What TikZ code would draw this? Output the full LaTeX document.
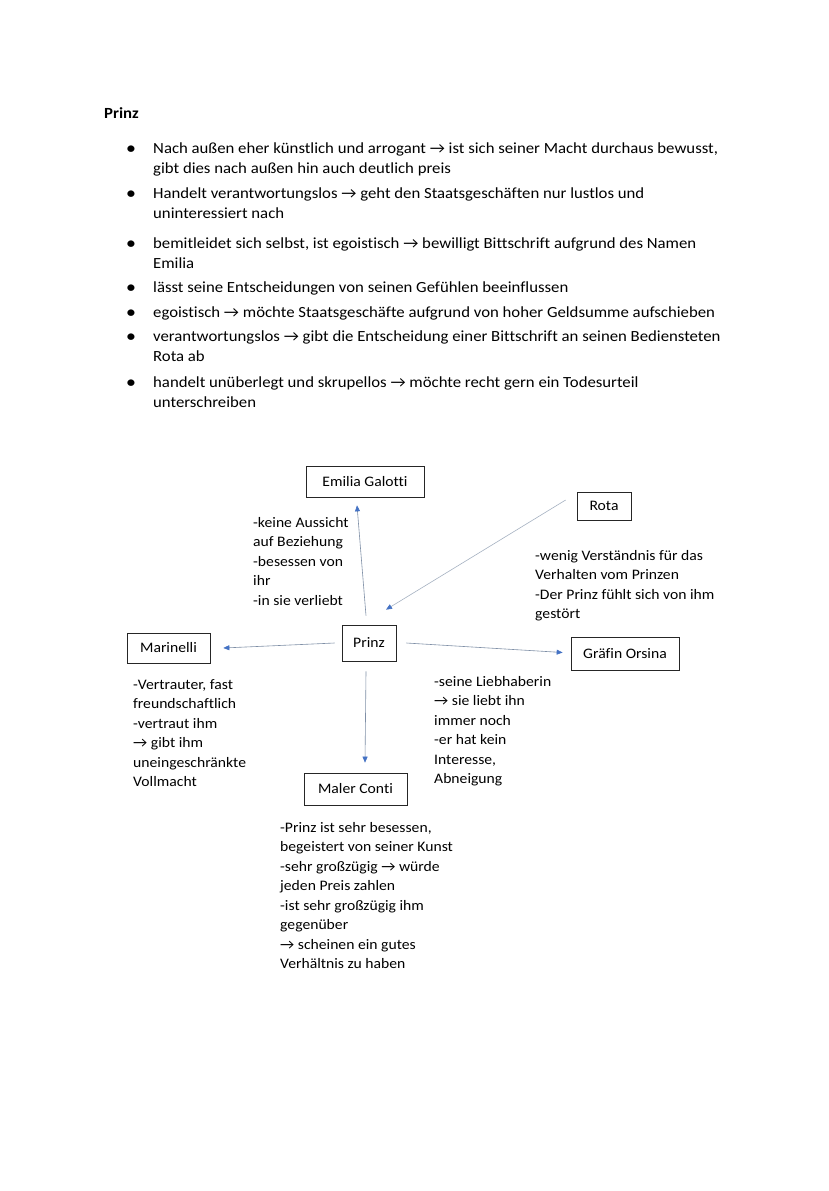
\documentclass[tikz,border=0pt]{standalone}
\usepackage{fontspec}
\setmainfont{Carlito}[FakeStretch=1.08,Ligatures={NoCommon}]
\usetikzlibrary{arrows.meta}
\definecolor{arrblue}{HTML}{4472C4}
\definecolor{linegray}{HTML}{7F8FA6}
\newcommand{\bodyfont}{\fontsize{15.5}{20}\selectfont}
\newcommand{\diafont}{\fontsize{14.5}{19.5}\selectfont}
\begin{document}
\begin{tikzpicture}[x=1pt,y=-1pt,
  txt/.style={anchor=base west, inner sep=0pt, align=left, font=\bodyfont},
  dtxt/.style={anchor=base west, inner sep=0pt, align=left, font=\diafont},
  bul/.style={anchor=base, inner sep=0pt, font=\bodyfont\bfseries},
  box/.style={draw=black!85, line width=0.7pt, inner sep=0pt, font=\diafont},
  arr/.style={draw=linegray, line width=0.6pt, -{Triangle[length=6pt,width=5pt,fill=arrblue,color=arrblue]}}]
\useasboundingbox[fill=white] (0,0) rectangle (828,1191);

% heading and bullet list (anchors at the baseline of each text's last line)
\node[txt, font=\bodyfont\bfseries] (head) at (104,118) {Prinz};
\foreach \y/\n in {153/1,198/2,248/3,292/4,317/5,341/6,387/7}
  \node[bul] (b\n) at (131,\y) {•};
\node[txt] (i1) at (153,173) {Nach außen eher künstlich und arrogant → ist sich seiner Macht durchaus bewusst,\\gibt dies nach außen hin auch deutlich preis};
\node[txt] (i2) at (153,218) {Handelt verantwortungslos → geht den Staatsgeschäften nur lustlos und\\uninteressiert nach};
\node[txt] (i3) at (153,268) {bemitleidet sich selbst, ist egoistisch → bewilligt Bittschrift aufgrund des Namen\\Emilia};
\node[txt] (i4) at (153,292) {lässt seine Entscheidungen von seinen Gefühlen beeinflussen};
\node[txt] (i5) at (153,317) {egoistisch → möchte Staatsgeschäfte aufgrund von hoher Geldsumme aufschieben};
\node[txt] (i6) at (153,361) {verantwortungslos → gibt die Entscheidung einer Bittschrift an seinen Bediensteten\\Rota ab};
\node[txt] (i7) at (153,407) {handelt unüberlegt und skrupellos → möchte recht gern ein Todesurteil\\unterschreiben};

% boxes
\node[box, minimum width=118pt, minimum height=31pt] (emilia) at (365,481.5) {Emilia Galotti};
\node[box, minimum width=54pt, minimum height=28pt] (rota) at (604,506) {Rota};
\node[box, minimum width=54pt, minimum height=36pt] (prinz) at (369,643) {Prinz};
\node[box, minimum width=83pt, minimum height=30pt] (marinelli) at (168.5,648) {Marinelli};
\node[box, minimum width=108pt, minimum height=33pt] (orsina) at (625,653.5) {Gräfin Orsina};
\node[box, minimum width=103pt, minimum height=32pt] (conti) at (355.5,789) {Maler Conti};

% connectors
\draw[arr] ([xshift=-3pt,yshift=9pt]prinz.north) -- ([xshift=-8pt,yshift=-8pt]emilia.south);
\draw[arr, draw=linegray!70] ([xshift=-11pt,yshift=6pt]rota.west) -- ([xshift=17pt,yshift=15pt]prinz.north);
\draw[arr] ([xshift=-7pt]prinz.west) -- ([xshift=13pt]marinelli.east);
\draw[arr] ([xshift=10pt]prinz.east) -- ([xshift=-8pt,yshift=1pt]orsina.west);
\draw[arr] ([xshift=-3pt,yshift=-10pt]prinz.south) -- ([xshift=9.5pt,yshift=10pt]conti.north);

% annotations (anchored at the baseline of the last line)
\node[dtxt] (tEmilia) at (253,605) {-keine Aussicht\\auf Beziehung\\-besessen von\\ihr\\-in sie verliebt};
\node[dtxt] (tRota) at (535,618.5) {-wenig Verständnis für das\\Verhalten vom Prinzen\\-Der Prinz fühlt sich von ihm\\gestört};
\node[dtxt] (tMarinelli) at (133,786.5) {-Vertrauter, fast\\freundschaftlich\\-vertraut ihm\\→ gibt ihm\\uneingeschränkte\\Vollmacht};
\node[dtxt] (tOrsina) at (434,783.5) {-seine Liebhaberin\\→ sie liebt ihn\\immer noch\\-er hat kein\\Interesse,\\Abneigung};
\node[dtxt] (tConti) at (280,968.5) {-Prinz ist sehr besessen,\\begeistert von seiner Kunst\\-sehr großzügig → würde\\jeden Preis zahlen\\-ist sehr großzügig ihm\\gegenüber\\→ scheinen ein gutes\\Verhältnis zu haben};
\end{tikzpicture}
\end{document}
